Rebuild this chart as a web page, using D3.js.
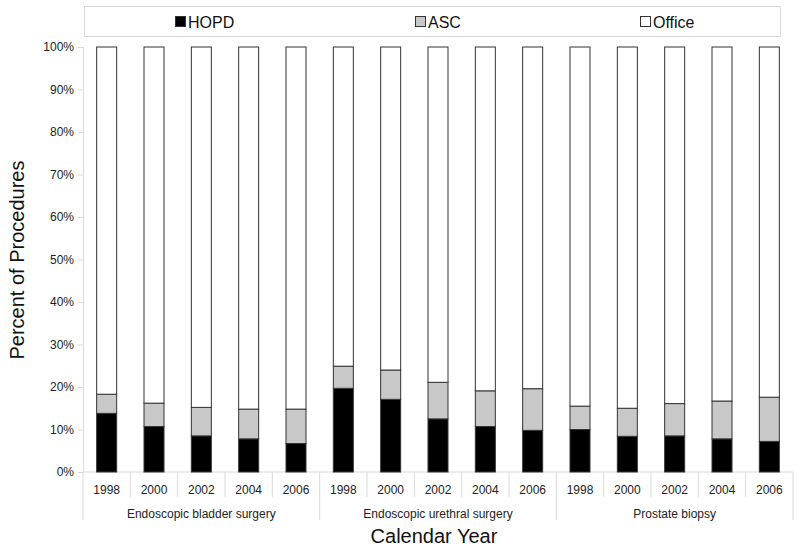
<!DOCTYPE html>
<html><head><meta charset="utf-8">
<script src="https://cdn.jsdelivr.net/npm/d3@7"></script>
<style>body{margin:0;background:#fff;} svg{display:block;font-family:Arial,"Liberation Sans",Helvetica,sans-serif;}</style>
</head><body>
<svg id="c" width="800" height="549"></svg>
<script>
const groups = ["Endoscopic bladder surgery","Endoscopic urethral surgery","Prostate biopsy"];
const years = ["1998","2000","2002","2004","2006"];
const series = ["HOPD","ASC","Office"];
const colors = ["#000000","#c8c8c8","#ffffff"];
// percent values per group, per year
const hopd = [
  [13.8,10.7,8.5,7.8,6.7],
  [19.7,17.1,12.5,10.7,9.8],
  [10.0,8.4,8.5,7.8,7.2]
];
const asc = [
  [4.5,5.5,6.7,7.0,8.1],
  [5.2,6.9,8.6,8.4,9.8],
  [5.5,6.6,7.6,8.9,10.4]
];
const yTicks = [0,10,20,30,40,50,60,70,80,90,100];

const rows = [];
groups.forEach((g,gi)=>years.forEach((y,yi)=>{
  const h=hopd[gi][yi], a=asc[gi][yi];
  rows.push({key:g+"|"+y, group:g, year:y, HOPD:h, ASC:a, Office:100-h-a});
}));

const svg = d3.select("#c");
const L=83, R=793, T=47, B=472;
const x = d3.scaleBand().domain(rows.map(d=>d.key)).range([L,R]).paddingInner(0).paddingOuter(0);
const y = d3.scaleLinear().domain([0,100]).range([B,T]);
const stack = d3.stack().keys(series)(rows);
const bw = 20;
const gridCol = "#d9d9d9";

// y axis
const ya = svg.append("g").attr("transform",`translate(${L},0)`)
  .call(d3.axisLeft(y).tickValues(yTicks).tickFormat(d=>d+"%").tickSize(5).tickPadding(4));
ya.selectAll("path,line").attr("stroke",gridCol);
ya.selectAll("text").attr("font-size","12px").attr("fill","#222").attr("font-family","Arial,'Liberation Sans',sans-serif");

// bottom axis line
svg.append("line").attr("x1",L).attr("x2",R).attr("y1",B).attr("y2",B).attr("stroke",gridCol);

// bars
stack.forEach((s,si)=>{
  svg.append("g").selectAll("rect").data(s).join("rect")
    .attr("x",d=>x(d.data.key)+x.bandwidth()/2-bw/2)
    .attr("width",bw)
    .attr("y",d=>y(d[1]))
    .attr("height",d=>y(d[0])-y(d[1]))
    .attr("fill",colors[si]).attr("stroke","#333").attr("stroke-width",1);
});

// category separators
rows.forEach((d,i)=>{
  const xx = x(d.key);
  const isGroup = i%5===0;
  svg.append("line").attr("x1",xx).attr("x2",xx).attr("y1",B).attr("y2",isGroup?520:497).attr("stroke",gridCol);
});
svg.append("line").attr("x1",R).attr("x2",R).attr("y1",B).attr("y2",520).attr("stroke",gridCol);

// year labels
svg.append("g").selectAll("text").data(rows).join("text")
  .attr("x",d=>x(d.key)+x.bandwidth()/2).attr("y",494)
  .attr("text-anchor","middle").attr("font-size","12px").attr("fill","#222").text(d=>d.year);

// group labels
groups.forEach((g,gi)=>{
  const x0 = x(rows[gi*5].key), x1 = x(rows[gi*5+4].key)+x.bandwidth();
  svg.append("text").attr("x",(x0+x1)/2).attr("y",518).attr("text-anchor","middle")
    .attr("font-size","12px").attr("fill","#222").text(g);
});

// axis titles
svg.append("text").attr("x",(L+R)/2-4).attr("y",543).attr("text-anchor","middle")
  .attr("font-size","20px").attr("fill","#111").text("Calendar Year");
svg.append("text").attr("transform","translate(24,260) rotate(-90)").attr("text-anchor","middle")
  .attr("font-size","20px").attr("fill","#111").text("Percent of Procedures");

// legend
svg.append("rect").attr("x",84.5).attr("y",6.5).attr("width",696).attr("height",30)
  .attr("fill","#fff").attr("stroke",gridCol);
const legX = [175,415,640];
series.forEach((s,i)=>{
  svg.append("rect").attr("x",legX[i]+0.5).attr("y",16.5).attr("width",10).attr("height",10)
    .attr("fill",colors[i]).attr("stroke","#333");
  svg.append("text").attr("x",legX[i]+13).attr("y",27.5).attr("font-size","16px").attr("fill","#111").text(s);
});
</script>
</body></html>
